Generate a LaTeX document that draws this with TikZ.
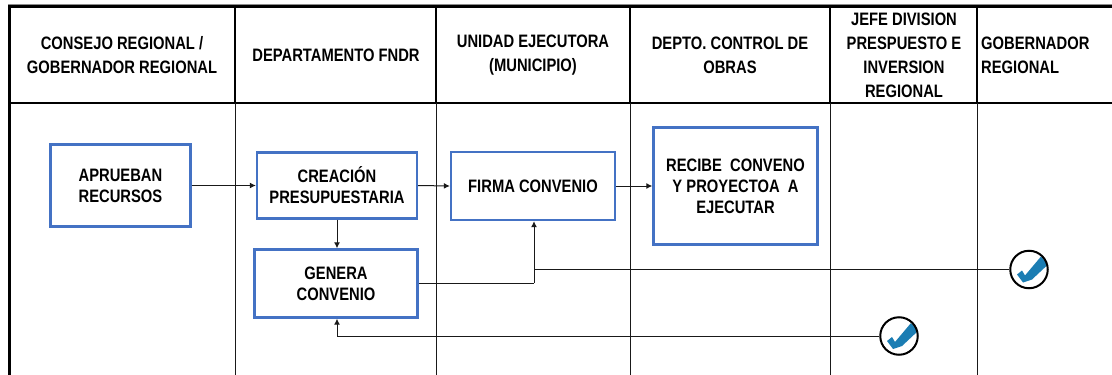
\documentclass[tikz,border=0pt]{standalone}
\usepackage{fontspec}
\setmainfont[FakeStretch=0.82]{Liberation Sans}
\usetikzlibrary{arrows.meta}
\definecolor{boxblue}{HTML}{4472C4}
\definecolor{checkblue}{HTML}{1B7DB3}
\tikzset{
  headtext/.style={font=\fontsize{18}{24}\selectfont\bfseries,align=center,inner sep=0pt,text=black},
  stepbox/.style={draw=boxblue,line width=2.4pt,fill=white,inner sep=0pt,align=center,
    font=\fontsize{18}{21}\selectfont\bfseries,text=black},
  conn/.style={draw=black!90,line width=1pt,-{Latex[length=6pt,width=6pt]}},
  plainconn/.style={draw=black!90,line width=1pt},
  heavy/.style={line width=2.2pt,black},
  thinrule/.style={line width=1.3pt,black!90},
  checkmark/.style={circle,draw=black,line width=2pt,fill=white,minimum size=37.5pt,inner sep=0pt,
    path picture={\fill[checkblue] ([shift={(-12pt,-5pt)}]path picture bounding box.center)
      -- ++(5pt,4pt) -- ++(3pt,-5pt) -- ++(16pt,19pt) -- ++(7pt,-8pt)
      -- ++(-16pt,-15pt) -- ++(-9pt,-3pt) -- cycle;}},
}
\begin{document}
\begin{tikzpicture}[x=1pt,y=-1pt]
\useasboundingbox (0,0) rectangle (1112,375);
% table
\draw[line width=1pt,black!45] (8,4.5) -- (1112,4.5);
\draw[line width=3pt,black] (8,6) -- (1112,6);
\draw[line width=3pt,black] (9.5,5) -- (9.5,375);
\draw[heavy] (9,103) -- (1112,103);
\foreach \x in {235,436,630,830,977}{
  \draw[heavy] (\x,6) -- (\x,103);
  \draw[thinrule] (\x+0.5,103) -- (\x+0.5,375);
}
% headers
\node[headtext] (h1) at (122,55.5) {CONSEJO REGIONAL /\\GOBERNADOR REGIONAL};
\node[headtext] (h2) at (336,55.5) {DEPARTAMENTO FNDR};
\node[headtext] (h3) at (533,55.5) {UNIDAD EJECUTORA\\(MUNICIPIO)};
\node[headtext] (h4) at (730,55.5) {DEPTO. CONTROL DE\\OBRAS};
\node[headtext] (h5) at (904,55.5) {JEFE DIVISION\\PRESPUESTO E\\INVERSION\\REGIONAL};
\node[headtext,align=left,anchor=west] (h6) at (981,55.5) {GOBERNADOR\\REGIONAL};
% boxes
\node[stepbox,minimum width=140pt,minimum height=82pt] (a) at (120.5,185.5) {APRUEBAN\\RECURSOS};
\node[stepbox,minimum width=160pt,minimum height=66pt] (c) at (337,185.5) {CREACIÓN\\PRESUPUESTARIA};
\node[stepbox,minimum width=163pt,minimum height=68pt] (g) at (336,283.5) {GENERA\\CONVENIO};
\node[stepbox,minimum width=164pt,minimum height=68pt] (f) at (533,186) {FIRMA CONVENIO};
\node[stepbox,minimum width=164pt,minimum height=117pt] (r) at (735.5,186) {RECIBE\ \ CONVENO\\Y PROYECTOA\ \ A\\EJECUTAR};
% check marks
\node[checkmark] (k1) at (1029,269.5) {};
\node[checkmark] (k2) at (899,336) {};
% connectors
\draw[conn] (a.east) -- (c.west);
\draw[conn] (c.east) -- (f.west);
\draw[conn] (f.east) -- (r.west);
\draw[conn] (c.south -| g.north) ++(1,0) -- ([xshift=1pt]g.north);
\coordinate (j) at (534,283);
\draw[plainconn] (g.east |- j) -- (j);
\draw[conn] (j) -- (j |- f.south);
\draw[plainconn] (k1.west) -- (k1.west -| j);
\coordinate (b) at (337,336);
\draw[plainconn] (k2.west) -- (b);
\draw[conn] (b) -- (b |- g.south);
\end{tikzpicture}
\end{document}
